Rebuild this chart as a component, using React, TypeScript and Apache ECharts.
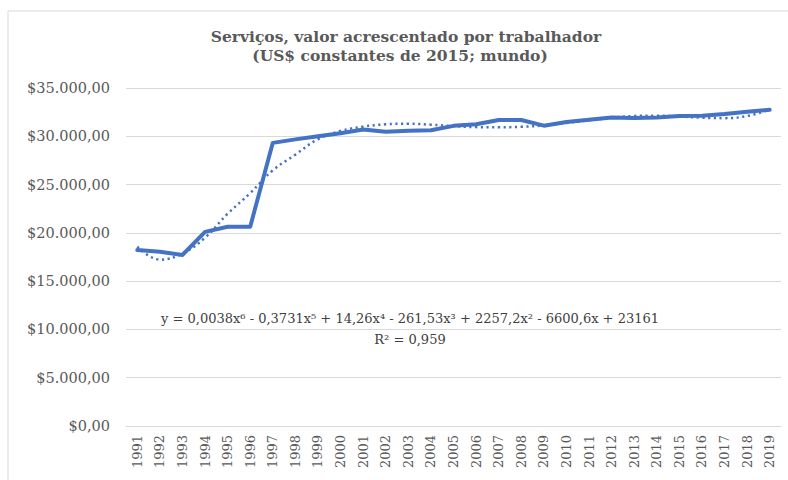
import React, { useEffect, useRef } from "react";
import * as echarts from "echarts";

const years = [
  "1991", "1992", "1993", "1994", "1995", "1996", "1997", "1998", "1999", "2000",
  "2001", "2002", "2003", "2004", "2005", "2006", "2007", "2008", "2009", "2010",
  "2011", "2012", "2013", "2014", "2015", "2016", "2017", "2018", "2019",
];

const valorPorTrabalhador = [
  18220, 18050, 17710, 20100, 20640, 20640, 29320, 29680, 30000, 30320,
  30700, 30480, 30580, 30620, 31080, 31240, 31690, 31690, 31100, 31480,
  31720, 31950, 31900, 31940, 32110, 32120, 32300, 32540, 32740,
];

const tendencia = [
  18560, 17220, 17860, 19500, 21980, 24120, 26470, 28100, 29700, 30550,
  31000, 31240, 31310, 31200, 31060, 30950, 30930, 30990, 31120, 31380,
  31660, 31920, 32100, 32130, 32050, 31920, 31880, 32100, 32760,
];

const titleLines = [
  "Serviços, valor acrescentado por trabalhador",
  "(US$ constantes de 2015; mundo)",
];

const equationText = "y = 0,0038x⁶ - 0,3731x⁵ + 14,26x⁴ - 261,53x³ + 2257,2x² - 6600,6x + 23161";
const r2Text = "R² = 0,959";

function formatMoney(v: number): string {
  const intPart = Math.round(v).toString().replace(/\B(?=(\d{3})+(?!\d))/g, ".");
  return "$" + intPart + ",00";
}

export default function App() {
  const ref = useRef<HTMLDivElement>(null);

  useEffect(() => {
    document.body.style.margin = "0";
    if (!ref.current) return;
    const chart = echarts.init(ref.current, null, { renderer: "svg" });
    const serif = "DejaVu Serif";
    chart.setOption({
      animation: false,
      backgroundColor: "#ffffff",
      grid: { left: 126, right: 7, top: 88, bottom: 54 },
      graphic: [
        {
          type: "rect",
          shape: { x: 8, y: 11, width: 820, height: 520 },
          style: { fill: "none", stroke: "#d9d9d9", lineWidth: 1 },
          silent: true,
        },
        {
          type: "text",
          x: 406,
          y: 36,
          style: {
            text: titleLines[0],
            font: "bold 15.5px 'DejaVu Serif'",
            fill: "#595959",
            align: "center",
            verticalAlign: "middle",
          },
        },
        {
          type: "text",
          x: 400,
          y: 55,
          style: {
            text: titleLines[1],
            font: "bold 15.5px 'DejaVu Serif'",
            fill: "#595959",
            align: "center",
            verticalAlign: "middle",
          },
        },
        {
          type: "text",
          x: 410,
          y: 318,
          z: 100,
          style: {
            text: equationText,
            font: "13px 'DejaVu Serif'",
            fill: "#404040",
            align: "center",
            verticalAlign: "middle",
          },
        },
        {
          type: "text",
          x: 410,
          y: 339,
          z: 100,
          style: {
            text: r2Text,
            font: "13px 'DejaVu Serif'",
            fill: "#404040",
            align: "center",
            verticalAlign: "middle",
          },
        },
      ],
      xAxis: {
        type: "category",
        data: years,
        boundaryGap: true,
        axisLine: { show: true, lineStyle: { color: "#d9d9d9", width: 1 } },
        axisTick: { show: false },
        axisLabel: {
          rotate: 90,
          margin: 9,
          interval: 0,
          color: "#595959",
          fontFamily: serif,
          fontSize: 13,
        },
      },
      yAxis: {
        type: "value",
        min: 0,
        max: 35000,
        interval: 5000,
        axisLine: { show: false },
        axisTick: { show: false },
        splitLine: { lineStyle: { color: "#d9d9d9", width: 1 } },
        axisLabel: {
          formatter: (v: number) => formatMoney(v),
          margin: 16,
          color: "#595959",
          fontFamily: serif,
          fontSize: 14.5,
        },
      },
      series: [
        {
          name: "Serviços",
          type: "line",
          data: valorPorTrabalhador,
          showSymbol: false,
          symbol: "none",
          lineStyle: { color: "#4472C4", width: 4, cap: "round", join: "round" },
          z: 2,
        },
        {
          name: "Tendência",
          type: "line",
          data: tendencia,
          smooth: 0.4,
          showSymbol: false,
          symbol: "none",
          lineStyle: { color: "#4472C4", width: 2.5, type: [2.2, 3.5] },
          z: 3,
        },
      ],
    });
    return () => chart.dispose();
  }, []);

  return <div ref={ref} style={{ width: 788, height: 480 }} />;
}
